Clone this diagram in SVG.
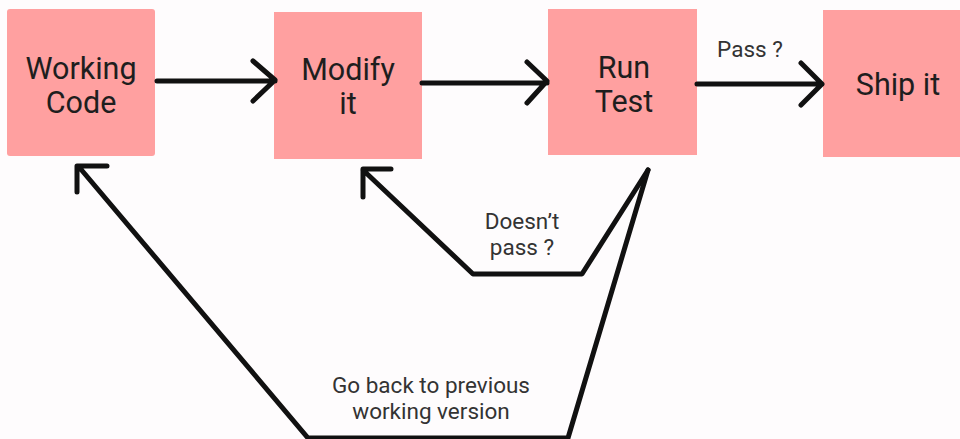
<svg xmlns="http://www.w3.org/2000/svg" width="960" height="439" viewBox="0 0 960 439">
<style>
.box{fill:#ffa0a0}
.t{font-family:Roboto,"Liberation Sans",sans-serif;font-size:30.5px;fill:#1e1e1e;text-anchor:middle}
.l{font-family:Roboto,"Liberation Sans",sans-serif;font-size:22.5px;fill:#333;text-anchor:middle}
.c{fill:none;stroke:#111;stroke-width:5;stroke-linecap:round;stroke-linejoin:round}
</style>
<rect width="960" height="439" fill="#fefcfd"/>
<g id="working-code"><rect class="box" x="7" y="9" width="148" height="147" rx="3"/><text class="t" x="81" y="79">Working</text><text class="t" x="81" y="113">Code</text></g>
<g id="modify-it"><rect class="box" x="274" y="12" width="148" height="147"/><text class="t" x="348" y="80">Modify</text><text class="t" x="348" y="114">it</text></g>
<g id="run-test"><rect class="box" x="548" y="9" width="149" height="146"/><text class="t" x="624" y="78">Run</text><text class="t" x="624" y="112">Test</text></g>
<g id="ship-it"><rect class="box" x="823" y="10" width="140" height="147"/><text class="t" x="898" y="95">Ship it</text></g>
<g id="connectors">
<path class="c" d="M157 81H275M253 61L275 80L253 101"/>
<path class="c" d="M422 83H547M527 62L547 81L527 103"/>
<path class="c" d="M697 84H822M801 63L822 84L801 105"/>
<path class="c" d="M648 170L582 274H473L363 170M363 197V169H391"/>
<path class="c" d="M648 170L568 438H308L79 167M77 192V166H107"/>
<text class="l" x="750" y="57">Pass ?</text>
<text class="l" x="522" y="229">Doesn’t</text>
<text class="l" x="522" y="255">pass ?</text>
<text class="l" x="431" y="393">Go back to previous</text>
<text class="l" x="431" y="419">working version</text>
</g>
</svg>
